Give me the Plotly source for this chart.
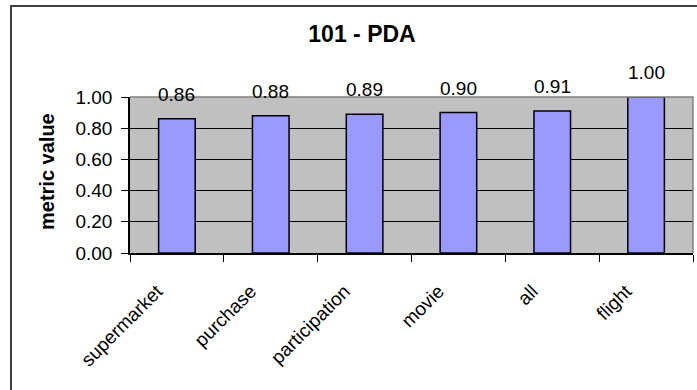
import plotly.graph_objects as go

# Metric per task category
categories = ["supermarket", "purchase", "participation", "movie", "all", "flight"]
values = [0.86, 0.88, 0.89, 0.90, 0.91, 1.00]
y_ticks = [0.0, 0.2, 0.4, 0.6, 0.8, 1.0]

FONT = "Liberation Sans, Arial, sans-serif"
W, H = 697, 390
L, R, T, B = 130, 4, 97, 137
pw = W - L - R
ph = H - T - B


def px_x(p):
    return (p - L) / pw


def px_y(p):
    return (H - B - p) / ph


fig = go.Figure(
    go.Bar(
        x=categories,
        y=values,
        marker=dict(color="#9999FF", line=dict(color="#000000", width=1.5)),
        cliponaxis=False,
        hoverinfo="skip",
    )
)

# value labels above each bar
for c, v in zip(categories, values):
    fig.add_annotation(
        x=c, y=v, text=f"{v:.2f}", showarrow=False,
        yanchor="bottom", yshift=12,
        font=dict(family=FONT, size=19, color="#000000"),
    )

# y-axis title
fig.add_annotation(
    xref="paper", yref="paper", x=px_x(47), y=px_y(172),
    text="<b>metric value</b>", textangle=-90, showarrow=False,
    xanchor="center", yanchor="middle",
    font=dict(family=FONT, size=20, color="#000000"),
)

# chart frame (left and top edges visible)
fig.add_shape(
    type="rect", xref="paper", yref="paper",
    x0=px_x(11), x1=px_x(705), y0=px_y(400), y1=px_y(6),
    line=dict(color="#404040", width=2), fillcolor="rgba(0,0,0,0)",
    layer="below",
)
# plot area border (top/right)
fig.add_shape(
    type="path", xref="paper", yref="paper",
    path="M 0 1 L 1 1 L 1 0",
    line=dict(color="#808080", width=1.5),
    layer="above",
)

fig.update_layout(
    width=W, height=H,
    margin=dict(l=L, r=R, t=T, b=B, autoexpand=False),
    paper_bgcolor="#FFFFFF",
    plot_bgcolor="#C0C0C0",
    bargap=0.61,
    showlegend=False,
    font=dict(family=FONT, size=19, color="#000000"),
    title=dict(
        text="<b>101 - PDA</b>", x=362 / W, xanchor="center",
        y=1 - 34 / H, yanchor="middle", xref="container", yref="container",
        font=dict(family=FONT, size=23, color="#000000"),
    ),
    xaxis=dict(
        type="category", tickangle=-45,
        showline=True, linecolor="#000000", linewidth=1.5,
        ticks="outside", ticklen=7, tickcolor="#000000", tickson="boundaries",
        showgrid=False, ticklabelstandoff=18, ticklabelshift=-20,
        tickfont=dict(family=FONT, size=19, color="#000000"),
    ),
    yaxis=dict(
        range=[0, 1], tickvals=y_ticks, tickformat=".2f",
        showline=True, linecolor="#000000", linewidth=1.5,
        ticks="outside", ticklen=7, tickcolor="#000000",
        showgrid=True, gridcolor="#000000", gridwidth=1,
        zeroline=False, ticklabelstandoff=5,
        tickfont=dict(family=FONT, size=19, color="#000000"),
    ),
)

fig.write_html("out.html")
